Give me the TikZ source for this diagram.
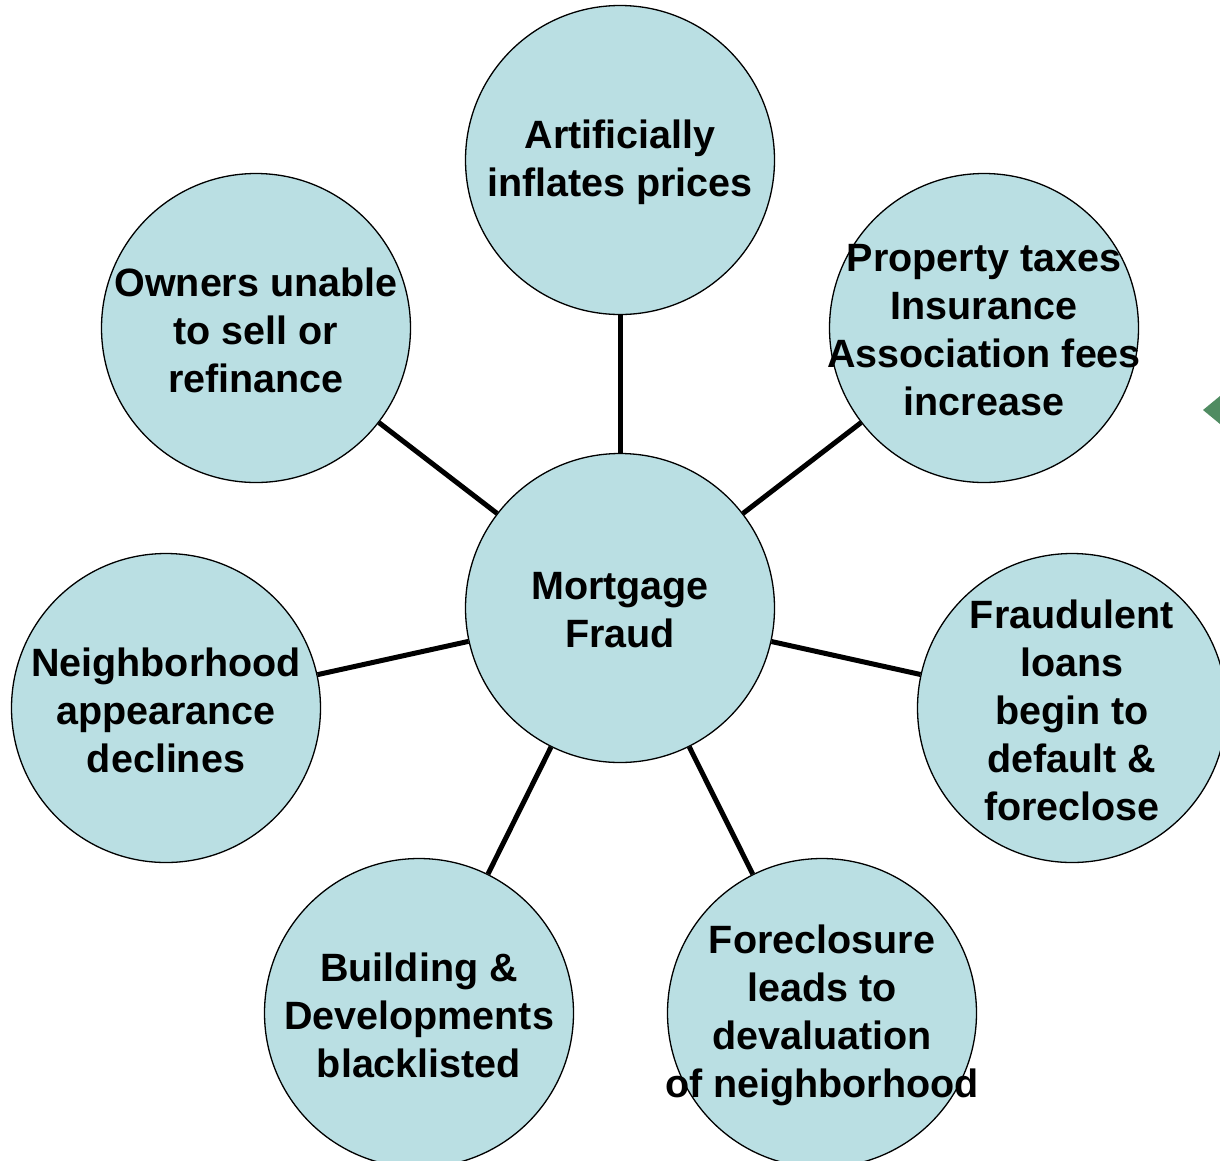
\documentclass[tikz,border=0pt]{standalone}
\usepackage{fontspec}
\setmainfont{Liberation Sans}
\definecolor{bubble}{RGB}{186,223,227}
\definecolor{leafgreen}{RGB}{80,140,98}
\begin{document}
\begin{tikzpicture}[x=1pt,y=-1pt,
  bubblenode/.style={circle,draw=black,line width=1.3pt,fill=bubble,minimum size=309pt,inner sep=0pt},
  bubbletext/.style={align=center,inner sep=0pt,yshift=-2.5pt,font=\fontsize{39.5}{48}\selectfont\bfseries},
  spoke/.style={line width=5pt,black}]
\useasboundingbox (0,0) rectangle (1220,1160);
\clip (0,0) rectangle (1220,1160);
\fill[white] (0,0) rectangle (1220,1160);
\fill[leafgreen] (1203,410) -- (1220,396) -- (1220,424) -- cycle;
\node[bubblenode] (c) at (620,608) {};
\node[bubblenode] (t) at (620,160) {};
\node[bubblenode] (p) at (984,328) {};
\node[bubblenode] (o) at (256,328) {};
\node[bubblenode] (n) at (166,708) {};
\node[bubblenode] (f) at (1072,708) {};
\node[bubblenode] (b) at (419,1013) {};
\node[bubblenode] (d) at (822,1013) {};
\node[bubbletext] (ct) at (c.center) {Mortgage\\Fraud};
\node[bubbletext] (tt) at (t.center) {Artificially\\inflates prices};
\node[bubbletext] (pt) at (p.center) {Property taxes\\Insurance\\Association fees\\increase};
\node[bubbletext] (ot) at (o.center) {Owners unable\\to sell or\\refinance};
\node[bubbletext] (nt) at (n.center) {Neighborhood\\appearance\\declines};
\node[bubbletext] (ft) at (f.center) {Fraudulent\\loans\\begin to\\default \&\\foreclose};
\node[bubbletext] (bt) at (b.center) {Building \&\\Developments\\blacklisted};
\node[bubbletext] (dt) at (d.center) {Foreclosure\\leads to\\devaluation\\of neighborhood};
\foreach \x in {t,p,o,n,f,b,d} \draw[spoke] (c) -- (\x);
\end{tikzpicture}
\end{document}
